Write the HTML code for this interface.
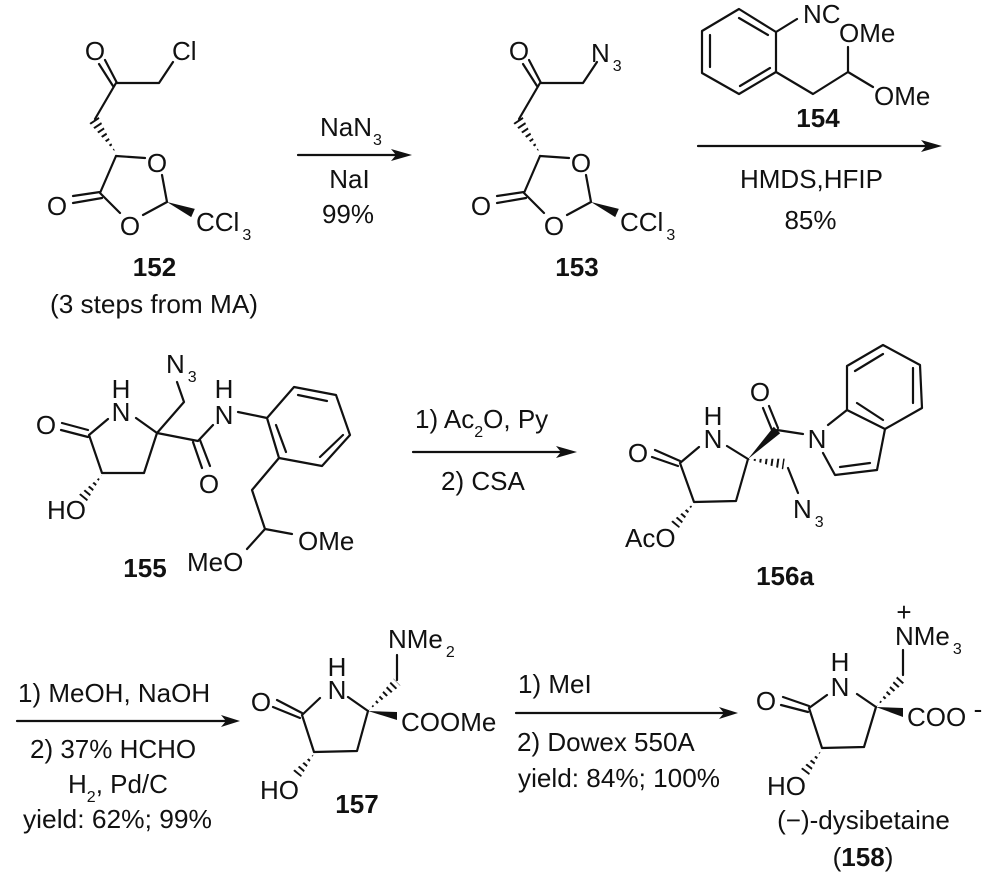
<!DOCTYPE html>
<html><head><meta charset="utf-8"><style>
html,body{margin:0;padding:0;background:#fff}
svg{display:block}
text{font-family:"Liberation Sans",sans-serif;font-size:26px;fill:#111}
.b{font-weight:bold;font-size:26px}
.m{text-anchor:middle}
.s{font-size:16px}
.l{stroke:#111;stroke-width:2.2;fill:none;stroke-linecap:round;stroke-linejoin:round}
.h{stroke:#111;stroke-width:16;stroke-dasharray:2 3.8;fill:none}
.f{fill:#111;stroke:none}
</style></head><body>
<svg width="1000" height="877" viewBox="0 0 1000 877" xmlns="http://www.w3.org/2000/svg">
<defs>
<clipPath id="h1"><polygon points="89.4,123 98.6,117 116,153"/></clipPath>
<clipPath id="h2"><polygon points="79.1,494.8 86.9,501.2 102,475"/></clipPath>
<clipPath id="h3"><polygon points="671,522 679,528 694,503"/></clipPath>
<clipPath id="h4"><polygon points="783.2,469.4 784.8,458.6 748,459"/></clipPath>
<clipPath id="h5"><polygon points="293,771 301,777 314,754"/></clipPath>
<clipPath id="h6"><polygon points="393.5,678.5 400.5,685.5 368,711"/></clipPath>
<clipPath id="h7"><polygon points="801,769 809,775 821,751"/></clipPath>
<clipPath id="h8"><polygon points="899.3,673.6 906.7,680.4 876,707"/></clipPath>
</defs>

<!-- 152 -->
<path class="l" d="M173,62L159,83L116,83L95,119M117,83L105,60M113,86L99,64"/>
<line class="h" x1="94" y1="120" x2="116" y2="153" clip-path="url(#h1)"/>
<path class="l" d="M116,156L145,158M162,175L167,202M167,202L143,215M120,213L100,193L116,156M100,192L73,196M102,198L73,203"/>
<polygon class="f" points="167,202 191.2,217.1 194.8,208.9"/>
<text class="m" x="95" y="60">O</text>
<text x="172" y="60">Cl</text>
<text class="m" x="157" y="172">O</text>
<text class="m" x="130" y="235">O</text>
<text class="m" x="57" y="215">O</text>
<text x="196" y="231">CCl<tspan class="s" dx="3" dy="9">3</tspan></text>
<text class="b m" x="154.5" y="276">152</text>
<text x="50" y="313" textLength="208" lengthAdjust="spacingAndGlyphs">(3 steps from MA)</text>

<!-- NaN3 arrow -->
<line class="l" x1="298" y1="155" x2="400" y2="155"/>
<polygon class="f" points="412,155 391,149 396,155 391,161"/>
<text x="320" y="136">NaN<tspan class="s" dx="1" dy="9">3</tspan></text>
<text class="m" x="349.5" y="188">NaI</text>
<text class="m" x="348" y="223">99%</text>

<!-- 153 -->
<g transform="translate(424,0)">
<path class="l" d="M173,62L159,83L116,83L95,119M117,83L105,60M113,86L99,64"/>
<line class="h" x1="94" y1="120" x2="116" y2="153" clip-path="url(#h1)"/>
<path class="l" d="M116,156L145,158M162,175L167,202M167,202L143,215M120,213L100,193L116,156M100,192L73,196M102,198L73,203"/>
<polygon class="f" points="167,202 191.2,217.1 194.8,208.9"/>
<text class="m" x="95" y="60">O</text>
<text class="m" x="157" y="172">O</text>
<text class="m" x="130" y="235">O</text>
<text class="m" x="57" y="215">O</text>
<text x="196" y="231">CCl<tspan class="s" dx="3" dy="9">3</tspan></text>
<text class="b m" x="153" y="276">153</text>
</g>
<text x="591" y="62">N<tspan class="s" dx="3" dy="9">3</tspan></text>

<!-- 154 -->
<path class="l" d="M739,9L776,32L776,72L739,94L702,73L702,31ZM739,18L768,35M770,68L740,86M710,35L710,67M776,32L797,19M776,72L813,94L848,72L848,47M848,72L873,87"/>
<text x="803" y="23">NC</text>
<text x="839" y="42">OMe</text>
<text x="874" y="105">OMe</text>
<text class="b m" x="818" y="127">154</text>
<line class="l" x1="698" y1="146" x2="930" y2="146"/>
<polygon class="f" points="942,146 921,140 926,146 921,152"/>
<text class="m" x="811.5" y="188">HMDS,HFIP</text>
<text class="m" x="810.5" y="229">85%</text>

<!-- 155 -->
<path class="l" d="M108,419L89,435L102,473L144,473L157,433L136,418M88,430L62,423M88,437L61,430M157,433L184,402L177,382M157,433L198,441L213,425M193,442L202,468M200,440L210,466M238,412L267,418L294,387L336,395L350,435L322,466L279,458L267,418M298,395L327,401M343,435L320,457M276,425L286,452M279,458L252,490L265,529L292,534M265,529L247,549"/>
<line class="h" x1="83" y1="498" x2="102" y2="475" clip-path="url(#h2)"/>
<text class="m" x="121" y="421">N</text>
<text class="m" x="121" y="398">H</text>
<text class="m" x="46" y="434">O</text>
<text x="166" y="373">N<tspan class="s" dx="3" dy="9">3</tspan></text>
<text class="m" x="224" y="424">N</text>
<text class="m" x="224" y="398">H</text>
<text class="m" x="209" y="493">O</text>
<text x="47" y="519">HO</text>
<text x="298" y="550">OMe</text>
<text x="187" y="571">MeO</text>
<text class="b m" x="145" y="577">155</text>

<!-- Ac2O arrow -->
<line class="l" x1="413" y1="452" x2="565" y2="452"/>
<polygon class="f" points="577,452 556,446 561,452 556,458"/>
<text x="415" y="428">1) Ac<tspan class="s" dy="9">2</tspan><tspan dy="-9">O, Py</tspan></text>
<text x="441" y="490">2) CSA</text>

<!-- 156a -->
<path class="l" d="M699,447L680,463L694,502L736,501L748,459L727,446M680,461L655,450M678,466L652,457M772,430L763,408M778,428L769,406M777,430L803,434M788,468L798,493M828,425L847,410L885,429L877,470L835,475L823,453M847,410L847,366L883,345L920,365L922,408L885,429M855,371L883,354M913,368L913,403M857,403L883,420M840,467L870,463"/>
<polygon class="f" points="748,459 773.8,426.8 780.2,433.2"/>
<line class="h" x1="748" y1="459" x2="784" y2="464" clip-path="url(#h4)"/>
<line class="h" x1="675" y1="525" x2="694" y2="503" clip-path="url(#h3)"/>
<text class="m" x="713" y="448">N</text>
<text class="m" x="713" y="425">H</text>
<text class="m" x="638" y="462">O</text>
<text class="m" x="760" y="401">O</text>
<text class="m" x="817" y="448">N</text>
<text x="793" y="518">N<tspan class="s" dx="3" dy="9">3</tspan></text>
<text x="625" y="547">AcO</text>
<text class="b m" x="785" y="585">156a</text>

<!-- row 3 arrow 1 -->
<line class="l" x1="17" y1="721" x2="228" y2="721"/>
<polygon class="f" points="240,721 221,715 226,721 221,727"/>
<text x="18" y="702">1) MeOH, NaOH</text>
<text x="30" y="758">2) 37% HCHO</text>
<text x="68" y="793">H<tspan class="s" dy="9">2</tspan><tspan dy="-9">, Pd/C</tspan></text>
<text x="23" y="828" textLength="189" lengthAdjust="spacingAndGlyphs">yield: 62%; 99%</text>

<!-- 157 -->
<path class="l" d="M320,698L302,715L314,752L357,751L368,711L348,697M302,713L277,700M300,718L273,707M397,680L397,655"/>
<polygon class="f" points="368,711 397,712 397,720"/>
<line class="h" x1="368" y1="711" x2="397" y2="682" clip-path="url(#h6)"/>
<line class="h" x1="297" y1="774" x2="314" y2="754" clip-path="url(#h5)"/>
<text class="m" x="337" y="699">N</text>
<text class="m" x="337" y="676">H</text>
<text class="m" x="261" y="711">O</text>
<text x="388" y="648">NMe<tspan class="s" dx="3" dy="9">2</tspan></text>
<text x="401" y="731">COOMe</text>
<text x="260" y="799">HO</text>
<text class="b m" x="357" y="813">157</text>

<!-- row 3 arrow 2 -->
<line class="l" x1="516" y1="713" x2="726" y2="713"/>
<polygon class="f" points="738,713 719,707 724,713 719,719"/>
<text x="518" y="693">1) MeI</text>
<text x="517" y="751">2) Dowex 550A</text>
<text x="518" y="787" textLength="202" lengthAdjust="spacingAndGlyphs">yield: 84%; 100%</text>

<!-- 158 -->
<path class="l" d="M827,695L809,708L822,748L864,747L876,707L857,694M809,706L783,697M808,712L781,705M903,675L903,650"/>
<polygon class="f" points="876,707 903,708 903,717"/>
<line class="h" x1="876" y1="707" x2="903" y2="677" clip-path="url(#h8)"/>
<line class="h" x1="805" y1="772" x2="821" y2="751" clip-path="url(#h7)"/>
<text class="m" x="840" y="696">N</text>
<text class="m" x="840" y="671">H</text>
<text class="m" x="766" y="710">O</text>
<text class="m" x="904" y="621">+</text>
<text x="895" y="645">NMe<tspan class="s" dx="3" dy="9">3</tspan></text>
<text x="907" y="726">COO</text>
<text class="m" x="978" y="718">-</text>
<text x="767" y="795">HO</text>
<text class="m" x="863.5" y="829">(−)-dysibetaine</text>
<text class="m" x="863" y="866">(<tspan font-weight="bold">158</tspan>)</text>
</svg>
</body></html>
